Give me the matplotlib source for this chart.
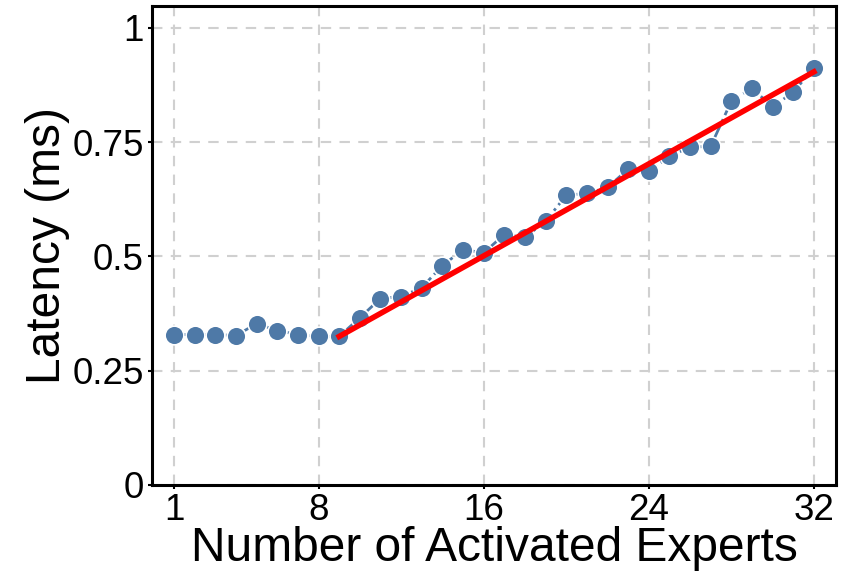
import numpy as np
import matplotlib.pyplot as plt

plt.rcParams['font.family'] = ['Liberation Sans', 'DejaVu Sans']

experts = list(range(1, 33))
latency = [0.329, 0.329, 0.329, 0.327, 0.353, 0.338, 0.329, 0.325,
           0.325, 0.366, 0.408, 0.412, 0.432, 0.480, 0.515, 0.508,
           0.548, 0.542, 0.577, 0.634, 0.638, 0.651, 0.691, 0.686,
           0.719, 0.739, 0.741, 0.840, 0.868, 0.827, 0.860, 0.912]
# red trend line (endpoints)
trend_x = [9, 32]
trend_y = [0.325, 0.904]
xticks = [1, 8, 16, 24, 32]
yticks = [0, 0.25, 0.5, 0.75, 1]
ytick_labels = ["0", "0.25", "0.5", "0.75", "1"]

fig = plt.figure(figsize=(8.41, 5.76), dpi=100)
ax = fig.add_axes([152 / 841, 1 - 485 / 576, (836 - 152) / 841, (485 - 6) / 576])

ax.plot(experts, latency, linestyle="-.", color="#4e79a7", lw=2, marker="o", ms=13.5,
        mfc="#4e79a7", mec="white", mew=1.2, zorder=3)
ax.plot(trend_x, trend_y, color="red", lw=4, zorder=4)

ax.set_xlim(-0.07, 33.07)
ax.set_ylim(0, 1.048)
ax.set_xticks(xticks)
ax.set_yticks(yticks)
ax.set_yticklabels(ytick_labels)
ax.tick_params(labelsize=26.5, length=3, width=1.5, pad=3)
ax.grid(True, linestyle="--", color="#d0d0d0", lw=1.5, dashes=(5, 4))
ax.set_axisbelow(True)
for s in ax.spines.values():
    s.set_linewidth(2.2)
    s.set_color("black")

ax.set_xlabel("Number of Activated Experts", fontsize=34.5, labelpad=-2)
ax.set_ylabel("Latency (ms)", fontsize=34.5, labelpad=2)

fig.savefig("out.png", dpi=100)
